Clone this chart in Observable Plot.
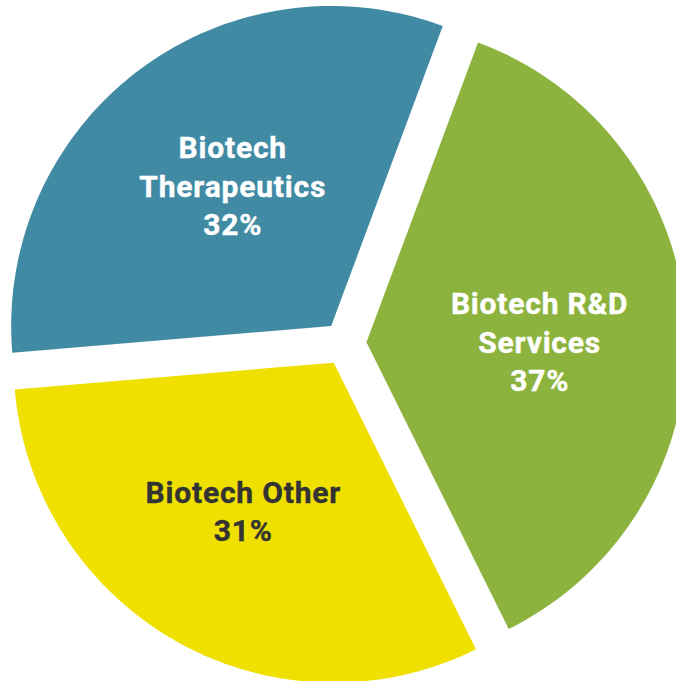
<!DOCTYPE html>
<html><head><meta charset="utf-8">
<script src="https://cdn.jsdelivr.net/npm/d3@7"></script>
<script src="https://cdn.jsdelivr.net/npm/@observablehq/plot@0.6"></script>
<style>html,body{margin:0;padding:0;background:#fff;overflow:hidden} svg{display:block} svg text{letter-spacing:0.8px}</style>
</head><body><div id="chart"></div>
<script>
// Data
const segments = ["Biotech R&D Services", "Biotech Other", "Biotech Therapeutics"];
const shares = [37, 31, 32];
const labelLines = [["Biotech R&D", "Services"], ["Biotech Other"], ["Biotech", "Therapeutics"]];
const sliceColors = ["#8cb33e", "#efe000", "#408aa4"];
const labelColors = ["#ffffff", "#333333", "#ffffff"];

// Layout
const W = 676, H = 681;
const CX = 344, CY = 343, R = 320;   // pixel centre and radius
const EXPLODE = 22 / R;               // slice offset (radius units)
const START = 20.4 * Math.PI / 180;   // first slice start (clockwise from north)
const LABEL_R = 0.54;
const LABEL_ROT = 2.3 * Math.PI / 180;

const pie = d3.pie().sort(null).startAngle(START).endAngle(START + 2 * Math.PI);
const arcs = pie(shares);

const outline = [];
const labels = [];
arcs.forEach((a, i) => {
  const mid = (a.startAngle + a.endAngle) / 2;
  const ox = EXPLODE * Math.sin(mid), oy = EXPLODE * Math.cos(mid);
  outline.push({name: segments[i], x: ox, y: oy});
  const n = 120;
  for (let k = 0; k <= n; k++) {
    const t = a.startAngle + (a.endAngle - a.startAngle) * k / n;
    outline.push({name: segments[i], x: ox + Math.sin(t), y: oy + Math.cos(t)});
  }
  const la = mid + LABEL_ROT;
  labels.push({
    name: segments[i],
    text: [...labelLines[i], `${shares[i]}%`].join("\n"),
    x: ox + LABEL_R * Math.sin(la),
    y: oy + LABEL_R * Math.cos(la),
    color: labelColors[i]
  });
});

const chart = Plot.plot({
  width: W,
  height: H,
  margin: 0,
  style: {background: "#ffffff"},
  x: {domain: [-CX / R, (W - CX) / R], axis: null},
  y: {domain: [-(H - CY) / R, CY / R], axis: null},
  color: {domain: segments, range: sliceColors},
  marks: [
    Plot.line(outline, {x: "x", y: "y", z: "name", fill: "name", stroke: "none"}),
    ...labelColors.filter((c, i, arr) => arr.indexOf(c) === i).map(c =>
      Plot.text(labels.filter(d => d.color === c), {
        x: "x", y: "y", text: "text",
        fill: c,
        stroke: c,
        strokeWidth: 0.4,
        fontSize: 30,
        fontWeight: "bold",
        fontFamily: "Roboto, 'Noto Sans', sans-serif",
        lineHeight: 1.28,
        textAnchor: "middle",
        dx: 0.4
      })
    )
  ]
});
document.getElementById("chart").append(chart);
</script>
</body></html>
